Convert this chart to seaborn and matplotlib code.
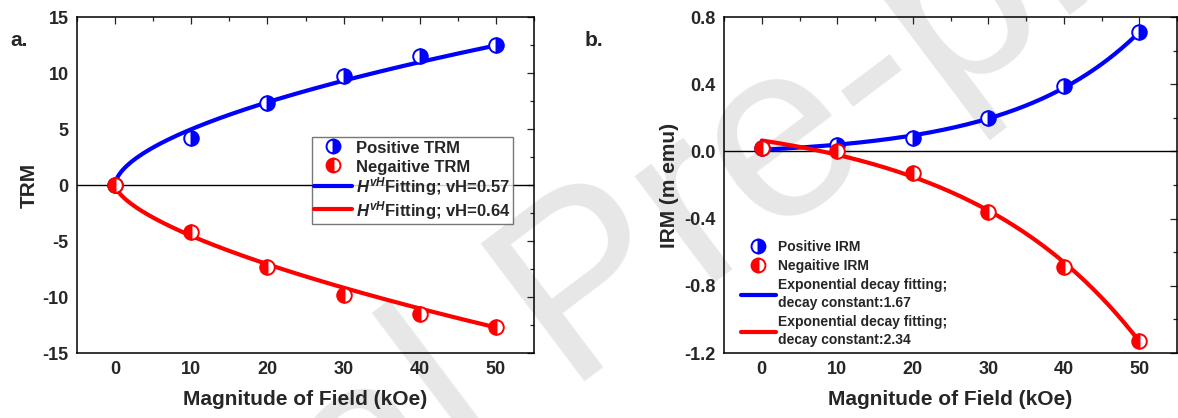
import numpy as np
import pandas as pd
import matplotlib
matplotlib.use("Agg")
import matplotlib.pyplot as plt
import seaborn as sns
from matplotlib.lines import Line2D
from matplotlib.ticker import MultipleLocator, FormatStrFormatter

# ---------------- data ----------------
field = [0, 10, 20, 30, 40, 50]
trm_pos = [0.0, 4.2, 7.3, 9.7, 11.5, 12.5]
trm_neg = [0.0, -4.2, -7.3, -9.8, -11.5, -12.7]
irm_pos = [0.02, 0.04, 0.08, 0.20, 0.39, 0.71]
irm_neg = [0.02, 0.00, -0.13, -0.36, -0.69, -1.13]

# fit parameters (power law A*H^vH, exponential y0 + A*exp(H/(10*t)))
trm_fit_pos = dict(A=1.34, vH=0.57)
trm_fit_neg = dict(A=-1.04, vH=0.64)
irm_fit_pos = dict(y0=-0.027, A=0.0369, t=1.67)
irm_fit_neg = dict(y0=0.225, A=-0.16, t=2.34)

trm_labels = ["Positive TRM", "Negaitive TRM",
              r"$H^{vH}$Fitting; vH=0.57", r"$H^{vH}$Fitting; vH=0.64"]
irm_labels = ["Positive IRM", "Negaitive IRM",
              "Exponential decay fitting;\ndecay constant:1.67",
              "Exponential decay fitting;\ndecay constant:2.34"]

# ---------------- style ----------------
sns.set_style("white")
plt.rcParams["font.family"] = ["Liberation Sans", "DejaVu Sans"]
plt.rcParams["font.weight"] = "bold"
plt.rcParams["axes.labelweight"] = "bold"
plt.rcParams["axes.unicode_minus"] = False
plt.rcParams["mathtext.fontset"] = "custom"
plt.rcParams["mathtext.it"] = "Liberation Sans:bold:italic"
plt.rcParams["mathtext.rm"] = "Liberation Sans:bold"
plt.rcParams["mathtext.bf"] = "Liberation Sans:bold"

BLUE = "#0000ff"
RED = "#ff0000"
W, H = 1178, 418
fig = plt.figure(figsize=(W / 100, H / 100), dpi=100)

def px_axes(l, r, t, b):
    return fig.add_axes([l / W, 1 - b / H, (r - l) / W, (b - t) / H])

axa = px_axes(77, 534, 17, 353)
axb = px_axes(724, 1177, 17, 353)

# watermark (behind the axes)
fig.text(590 / W, 1 - 295 / H, "Journal Pre-proof", fontsize=180, color="#e7e7e7",
         fontweight="normal", rotation=37, ha="center", va="center",
         rotation_mode="anchor", zorder=-1, family="Liberation Sans")
for ax in (axa, axb):
    ax.set_facecolor("none")
    ax.set_zorder(1)

def style_axis(ax):
    for s in ax.spines.values():
        s.set_color("black")
        s.set_linewidth(1.1)
        s.set_visible(True)
    ax.tick_params(which="both", direction="in", top=True, right=True,
                   labelsize=13, width=0.9, color="#222222")
    ax.tick_params(which="major", length=5, pad=6)
    ax.tick_params(which="minor", length=3)
    ax.set_xlim(-5, 55)
    ax.xaxis.set_major_locator(MultipleLocator(10))
    ax.xaxis.set_minor_locator(MultipleLocator(5))
    ax.axhline(0, color="black", lw=1.0, zorder=1)
    for lab in ax.get_xticklabels() + ax.get_yticklabels():
        lab.set_fontweight("bold")

mk = dict(marker="o", markersize=10.5, markeredgewidth=1.4, linestyle="none", zorder=4)

# ---------- panel a ----------
hh = np.linspace(0, 50, 300)
fit_a = pd.DataFrame({
    "H": np.concatenate([hh, hh]),
    "y": np.concatenate([trm_fit_pos["A"] * hh ** trm_fit_pos["vH"],
                         trm_fit_neg["A"] * hh ** trm_fit_neg["vH"]]),
    "s": ["p"] * len(hh) + ["n"] * len(hh),
})
sns.lineplot(data=fit_a, x="H", y="y", hue="s", palette={"p": BLUE, "n": RED},
             lw=3, ax=axa, legend=False, zorder=3)
axa.plot(field, trm_pos, color=BLUE, mec=BLUE, fillstyle="right",
         markerfacecoloralt="white", **mk)
axa.plot(field, trm_neg, color=RED, mec=RED, fillstyle="left",
         markerfacecoloralt="white", **mk)
axa.set_ylim(-15, 15)
axa.yaxis.set_major_locator(MultipleLocator(5))
axa.yaxis.set_minor_locator(MultipleLocator(2.5))
style_axis(axa)
axa.set_xlabel("Magnitude of Field (kOe)", fontsize=15, fontweight="bold")
axa.set_ylabel("TRM", fontsize=15, fontweight="bold")
axa.yaxis.set_label_coords(-0.083, 0.5)
axa.xaxis.set_label_coords(0.5, -0.11)

def handles(labels):
    return [
        Line2D([], [], color=BLUE, mec=BLUE, fillstyle="right", markerfacecoloralt="white",
               marker="o", markersize=10, markeredgewidth=1.4, linestyle="none", label=labels[0]),
        Line2D([], [], color=RED, mec=RED, fillstyle="left", markerfacecoloralt="white",
               marker="o", markersize=10, markeredgewidth=1.4, linestyle="none", label=labels[1]),
        Line2D([], [], color=BLUE, lw=3, label=labels[2]),
        Line2D([], [], color=RED, lw=3, label=labels[3]),
    ]

leg = axa.legend(handles=handles(trm_labels), loc="upper left",
                 bbox_to_anchor=(312 / W, 1 - 137 / H), bbox_transform=fig.transFigure,
                 frameon=True, fancybox=False, edgecolor="#555555",
                 handlelength=2.3, handleheight=1.25, handletextpad=0.25, labelspacing=0.04,
                 borderpad=0.12, borderaxespad=0, prop={"weight": "bold", "size": 12})
leg.get_frame().set_linewidth(1.0)

# ---------- panel b ----------
fit_b = pd.DataFrame({
    "H": np.concatenate([hh, hh]),
    "y": np.concatenate([irm_fit_pos["y0"] + irm_fit_pos["A"] * np.exp(hh / (10 * irm_fit_pos["t"])),
                         irm_fit_neg["y0"] + irm_fit_neg["A"] * np.exp(hh / (10 * irm_fit_neg["t"]))]),
    "s": ["p"] * len(hh) + ["n"] * len(hh),
})
sns.lineplot(data=fit_b, x="H", y="y", hue="s", palette={"p": BLUE, "n": RED},
             lw=3, ax=axb, legend=False, zorder=3)
axb.plot(field, irm_pos, color=BLUE, mec=BLUE, fillstyle="right",
         markerfacecoloralt="white", **mk)
axb.plot(field, irm_neg, color=RED, mec=RED, fillstyle="left",
         markerfacecoloralt="white", **mk)
axb.set_ylim(-1.2, 0.8)
axb.yaxis.set_major_locator(MultipleLocator(0.4))
axb.yaxis.set_minor_locator(MultipleLocator(0.2))
axb.yaxis.set_major_formatter(FormatStrFormatter("%.1f"))
style_axis(axb)
axb.set_xlabel("Magnitude of Field (kOe)", fontsize=15, fontweight="bold")
axb.set_ylabel("IRM (m emu)", fontsize=15, fontweight="bold")
axb.yaxis.set_label_coords(-0.1, 0.5)
axb.xaxis.set_label_coords(0.5, -0.11)

legb = axb.legend(handles=handles(irm_labels), loc="upper left",
                  bbox_to_anchor=(741 / W, 1 - 240 / H), bbox_transform=fig.transFigure,
                  frameon=False, handlelength=2.5, handletextpad=0.15, labelspacing=0.35,
                  borderpad=0, borderaxespad=0, prop={"weight": "bold", "size": 10})
for t in legb.get_texts():
    t.set_linespacing(1.4)

fig.text(10 / W, 1 - 40 / H, "a.", fontsize=15, fontweight="bold", va="center", ha="left")
fig.text(585 / W, 1 - 40 / H, "b.", fontsize=15, fontweight="bold", va="center", ha="left")

fig.savefig("out.png", dpi=100)
